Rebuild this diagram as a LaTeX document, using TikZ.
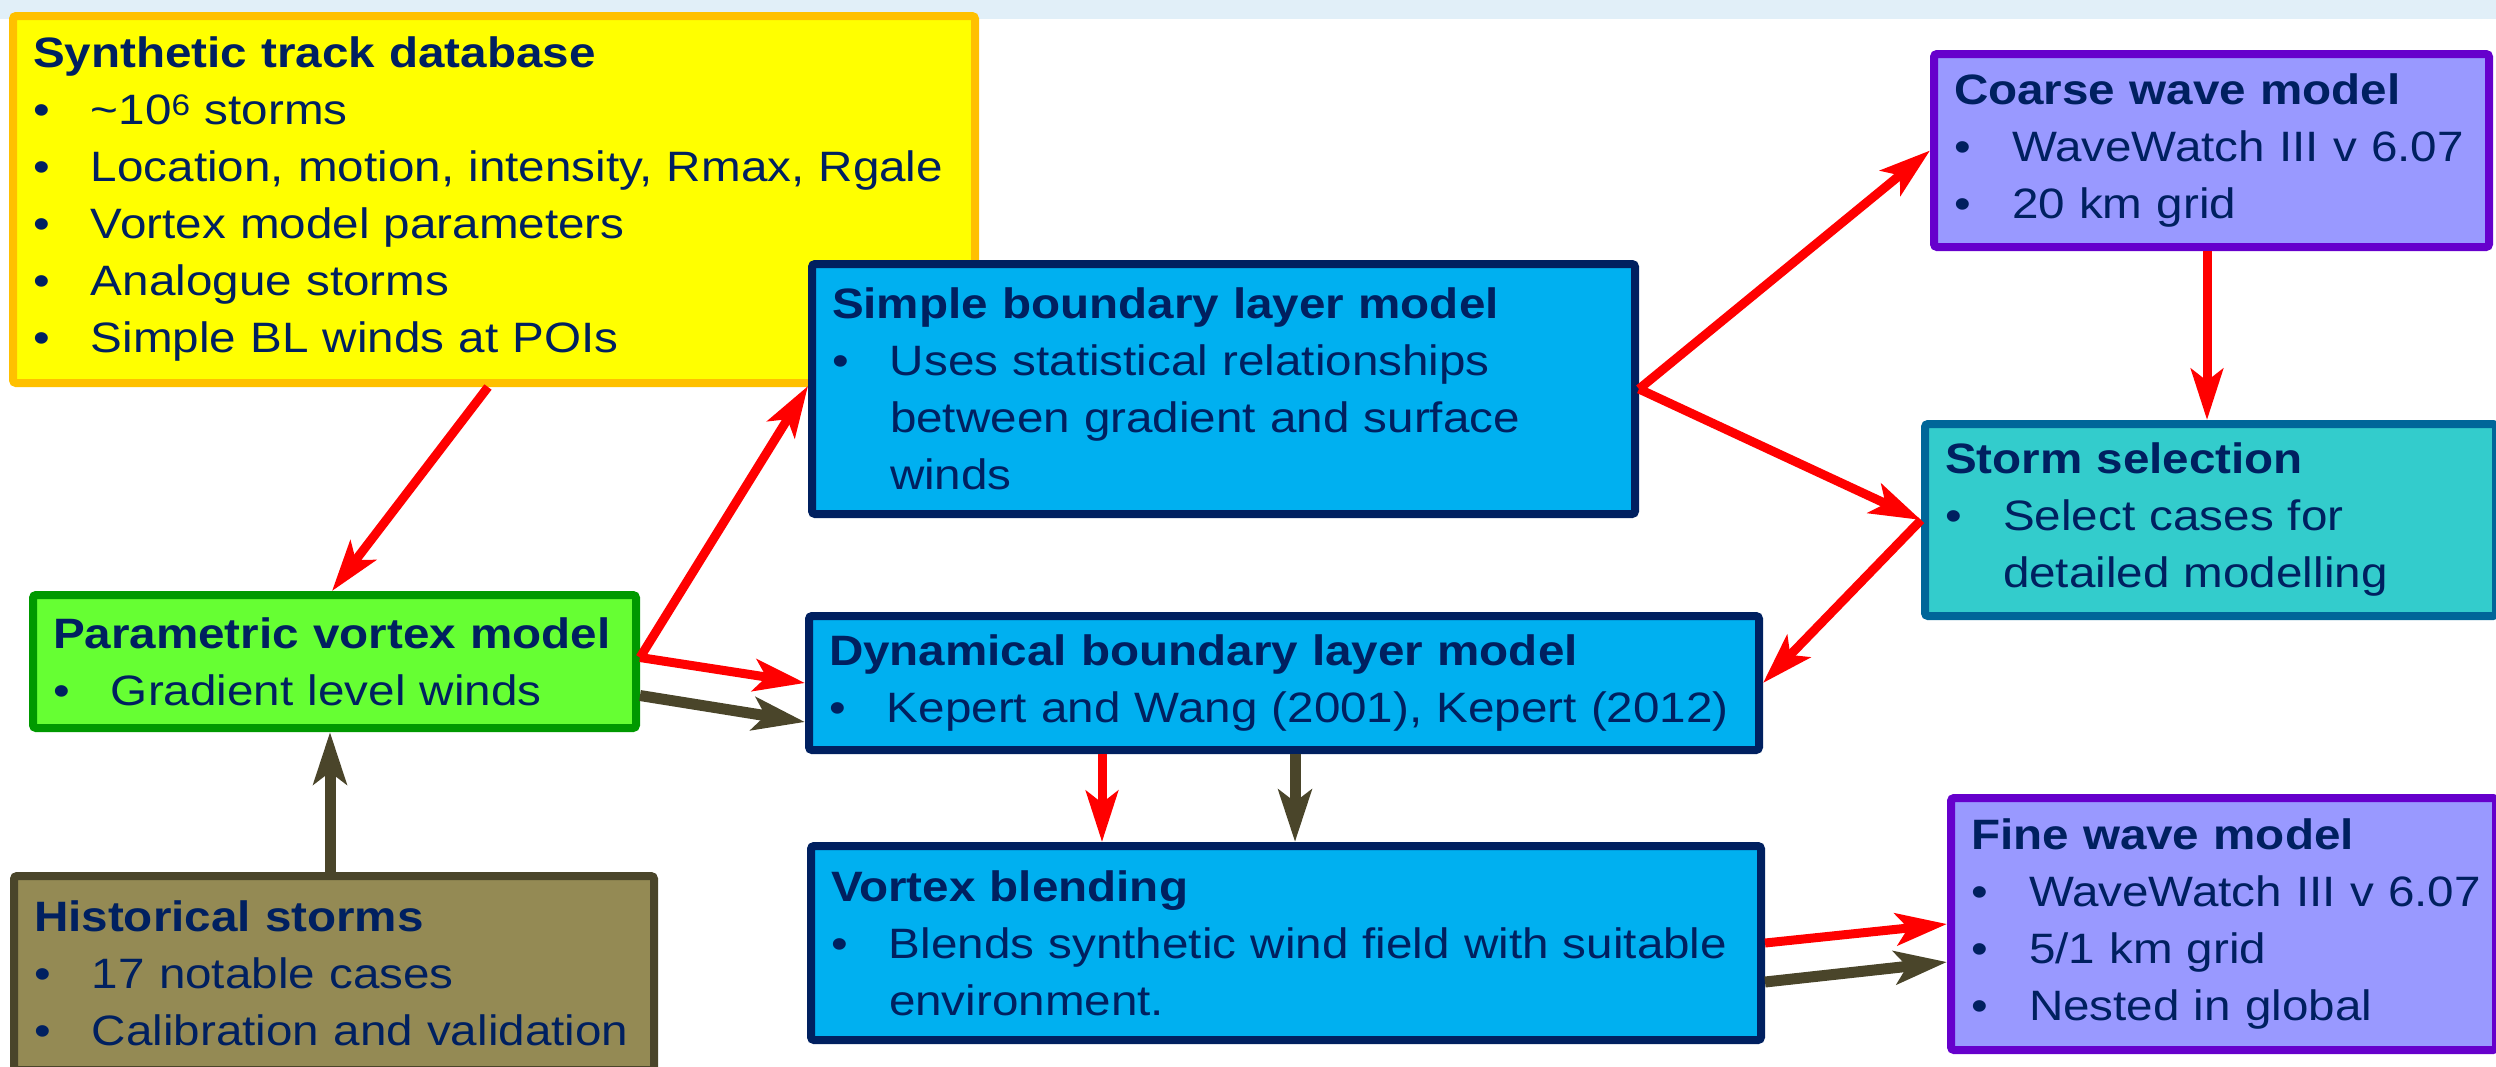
\documentclass[tikz,border=0pt]{standalone}
\usepackage{fontspec}
\setmainfont{Liberation Sans}[FakeStretch=1.12]
\usetikzlibrary{arrows.meta}
\definecolor{txt}{HTML}{002060}
\definecolor{band}{HTML}{E1EFF8}
\definecolor{yelfill}{HTML}{FFFF00}
\definecolor{yelline}{HTML}{FFC000}
\definecolor{grnfill}{HTML}{66FF33}
\definecolor{grnline}{HTML}{009900}
\definecolor{tanfill}{HTML}{948A54}
\definecolor{olive}{HTML}{4A452A}
\definecolor{bluefill}{HTML}{00B0F0}
\definecolor{blueline}{HTML}{002060}
\definecolor{lavfill}{HTML}{9999FF}
\definecolor{lavline}{HTML}{6600CC}
\definecolor{tealfill}{HTML}{33CCCC}
\definecolor{tealline}{HTML}{006699}
\definecolor{redarr}{HTML}{FF0000}
\newcommand{\btitle}[1]{\mbox{\textbf{#1}}}
\newcommand{\bitem}[1]{\makebox[58pt][l]{•}\mbox{#1}}
\newcommand{\bcont}[1]{\hspace*{58pt}\mbox{#1}}
\tikzset{
  box/.style={draw, line width=8pt, rounded corners=3pt, inner xsep=20pt, inner ysep=0pt,
    align=left, text=txt, font=\fontsize{42.5}{57}\selectfont, anchor=north west},
  redflow/.style={draw=redarr, line width=9pt, -{Stealth[length=51pt,width=32pt,inset=12pt]}},
  oliveflow/.style={draw=olive, line width=11pt, -{Stealth[length=52pt,width=33pt,inset=12pt]}},
}
\begin{document}
\begin{tikzpicture}[x=1pt,y=-1pt]
\useasboundingbox (0,0) rectangle (2496,1066);
\fill[band] (0,0) rectangle (2496,19);

\node[box, fill=yelfill, draw=yelline, text width=922pt, minimum height=367pt] (yel) at (9,12)
  {\btitle{Synthetic track database}\\
   \bitem{\textasciitilde 10\textsuperscript{6} storms}\\
   \bitem{Location, motion, intensity, Rmax, Rgale}\\
   \bitem{Vortex model parameters}\\
   \bitem{Analogue storms}\\
   \bitem{Simple BL winds at POIs}};

\node[box, fill=grnfill, draw=grnline, text width=563pt, minimum height=133pt] (grn) at (29,591)
  {\btitle{Parametric vortex model}\\
   \bitem{Gradient level winds}};

\node[box, fill=tanfill, draw=olive, text width=600pt, minimum height=194pt] (hist) at (10,872)
  {\btitle{Historical storms}\\
   \bitem{17 notable cases}\\
   \bitem{Calibration and validation}};

\node[box, fill=bluefill, draw=blueline, text width=783pt, minimum height=250pt] (sbl) at (808,260)
  {\btitle{Simple boundary layer model}\\
   \bitem{Uses statistical relationships}\\
   \bcont{between gradient and surface}\\
   \bcont{winds}};

\node[box, fill=bluefill, draw=blueline, text width=910pt, minimum height=134pt] (dbl) at (805,612)
  {\btitle{Dynamical boundary layer model}\\
   \bitem{Kepert and Wang (2001), Kepert (2012)}};

\node[box, fill=bluefill, draw=blueline, text width=910pt, minimum height=194pt] (vb) at (807,842)
  {\btitle{Vortex blending}\\
   \bitem{Blends synthetic wind field with suitable}\\
   \bcont{environment.}};

\node[box, fill=lavfill, draw=lavline, text width=515pt, minimum height=193pt] (cw) at (1930,50)
  {\btitle{Coarse wave model}\\
   \bitem{WaveWatch III v 6.07}\\
   \bitem{20 km grid}};

\node[box, fill=tealfill, draw=tealline, text width=531pt, minimum height=192pt] (ss) at (1921,420)
  {\btitle{Storm selection}\\
   \bitem{Select cases for}\\
   \bcont{detailed modelling}};

\node[box, fill=lavfill, draw=lavline, text width=505pt, minimum height=252pt] (fw) at (1947,794)
  {\btitle{Fine wave model}\\
   \bitem{WaveWatch III v 6.07}\\
   \bitem{5/1 km grid}\\
   \bitem{Nested in global}};

% red connectors
\draw[redflow] ([xshift=479pt]yel.south west) -- ([xshift=303pt]grn.north west);
\draw[redflow] ([yshift=4pt]grn.east) -- ([yshift=-126pt]sbl.north west);
\draw[redflow] ([yshift=4pt]grn.east) -- (dbl.west);
\draw[redflow] (sbl.east) -- (cw.west);
\draw[redflow] (sbl.east) -- (ss.west);
\draw[redflow] (ss.west) -- (dbl.east);
\draw[redflow] ([xshift=277pt]cw.south west) -- ([xshift=286pt]ss.north west);
\draw[redflow] ([xshift=297pt]dbl.south west) -- ([xshift=295pt]vb.north west);
\draw[redflow] (vb.east) -- (fw.west);

% olive connectors
\draw[oliveflow] ([xshift=320pt]hist.north west) -- ([xshift=301pt]grn.south west);
\draw[oliveflow] ([yshift=-34pt]grn.east) -- ([yshift=-39pt]dbl.west);
\draw[oliveflow] ([xshift=490pt]dbl.south west) -- ([xshift=488pt]vb.north west);
\draw[oliveflow] ([yshift=-39pt]vb.east) -- ([yshift=-38pt]fw.west);
\end{tikzpicture}
\end{document}
